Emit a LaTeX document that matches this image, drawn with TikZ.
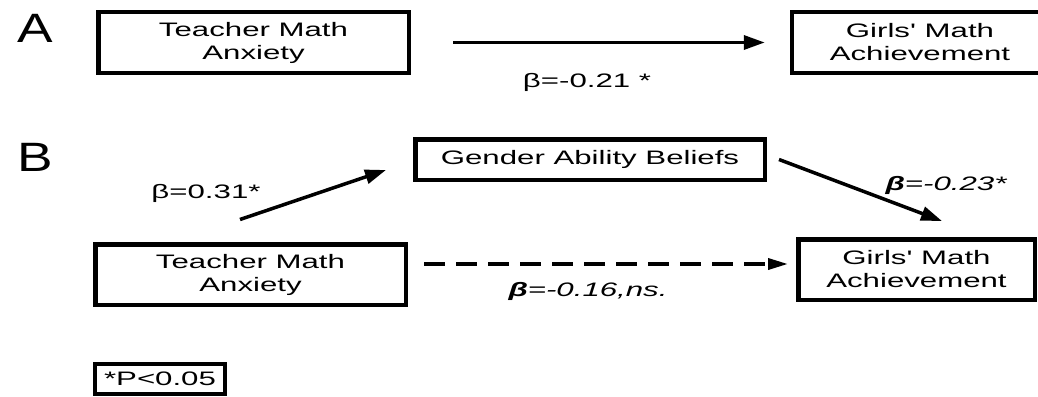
\documentclass[tikz,border=0pt]{standalone}
\usepackage{fontspec}
\setmainfont{Liberation Sans}
\newfontfamily\wf[FakeStretch=1.6]{Liberation Sans}
\newfontfamily\lf[FakeStretch=1.3]{Liberation Sans}
\usetikzlibrary{arrows.meta,calc}
\begin{document}
\begin{tikzpicture}[x=1pt,y=-1pt,
  txt/.style={font=\wf\fontsize{19.5}{23}\selectfont},
  box/.style={draw,line width=4.5pt,minimum height=60.5pt,align=center,inner sep=0pt,txt},
  lbl/.style={inner sep=0pt,anchor=base,txt},
  ilbl/.style={inner sep=0pt,anchor=base,font=\wf\itshape\fontsize{19.5}{23}\selectfont},
  panel/.style={inner sep=0pt,font=\lf\fontsize{41}{41}\selectfont},
  arr/.style={line width=3.5pt,-{Triangle[length=21pt,width=14pt]}},
  darr/.style={line width=3.5pt,dash pattern=on 21pt off 11pt,-{Triangle[length=20pt,width=11pt]}}
]
\useasboundingbox (0,0) rectangle (1038,396);
\clip (0,0) rectangle (1038,396);
% Panel A
\node[panel] (pa) at (35,28) {A};
\node[box,minimum width=310.5pt] (a1) at (253.5,42.5) {Teacher Math\\Anxiety};
\node[box,minimum width=320pt] (a2) at (952,42.5) {};
\node[align=center,inner sep=0pt,txt] (a2t) at (920,42.5) {Girls' Math\\Achievement};
\draw[arr] ($(a1.east)+(42,0)$) -- ($(a2.west)+(-25,0)$);
\node[lbl] (la) at (587,87) {β=-0.21 *};
% Panel B
\node[panel] (pb) at (35.5,157) {B};
\node[box,minimum width=349.5pt,minimum height=40.5pt] (gab) at (590,159.5) {Gender Ability Beliefs};
\node[box,minimum width=310.5pt] (b1) at (250.5,274.5) {Teacher Math\\Anxiety};
\node[box,minimum width=236.5pt] (b3) at (916.5,269.5) {Girls' Math\\Achievement};
\draw[arr] ($(b1.north)+(-10.5,-22.5)$) -- ($(gab.west)+(-27,10.5)$);
\draw[arr] ($(gab.east)+(12,0)$) -- ($(b3.north)+(25.5,-16)$);
\draw[darr] ($(b1.east)+(16,-10.5)$) -- ($(b3.west)+(-8,-5.5)$);
\node[lbl] (l1) at (206,198) {β=0.31*};
\node[ilbl] (l2) at (946,190) {\textbf{β}=-0.23*};
\node[ilbl] (l3) at (588,296.5) {\textbf{β}=-0.16,ns.};
% note
\node[draw,line width=4pt,minimum width=130pt,minimum height=30pt,inner sep=0pt,txt] (p) at (160,379) {*P<0.05};
\end{tikzpicture}
\end{document}
